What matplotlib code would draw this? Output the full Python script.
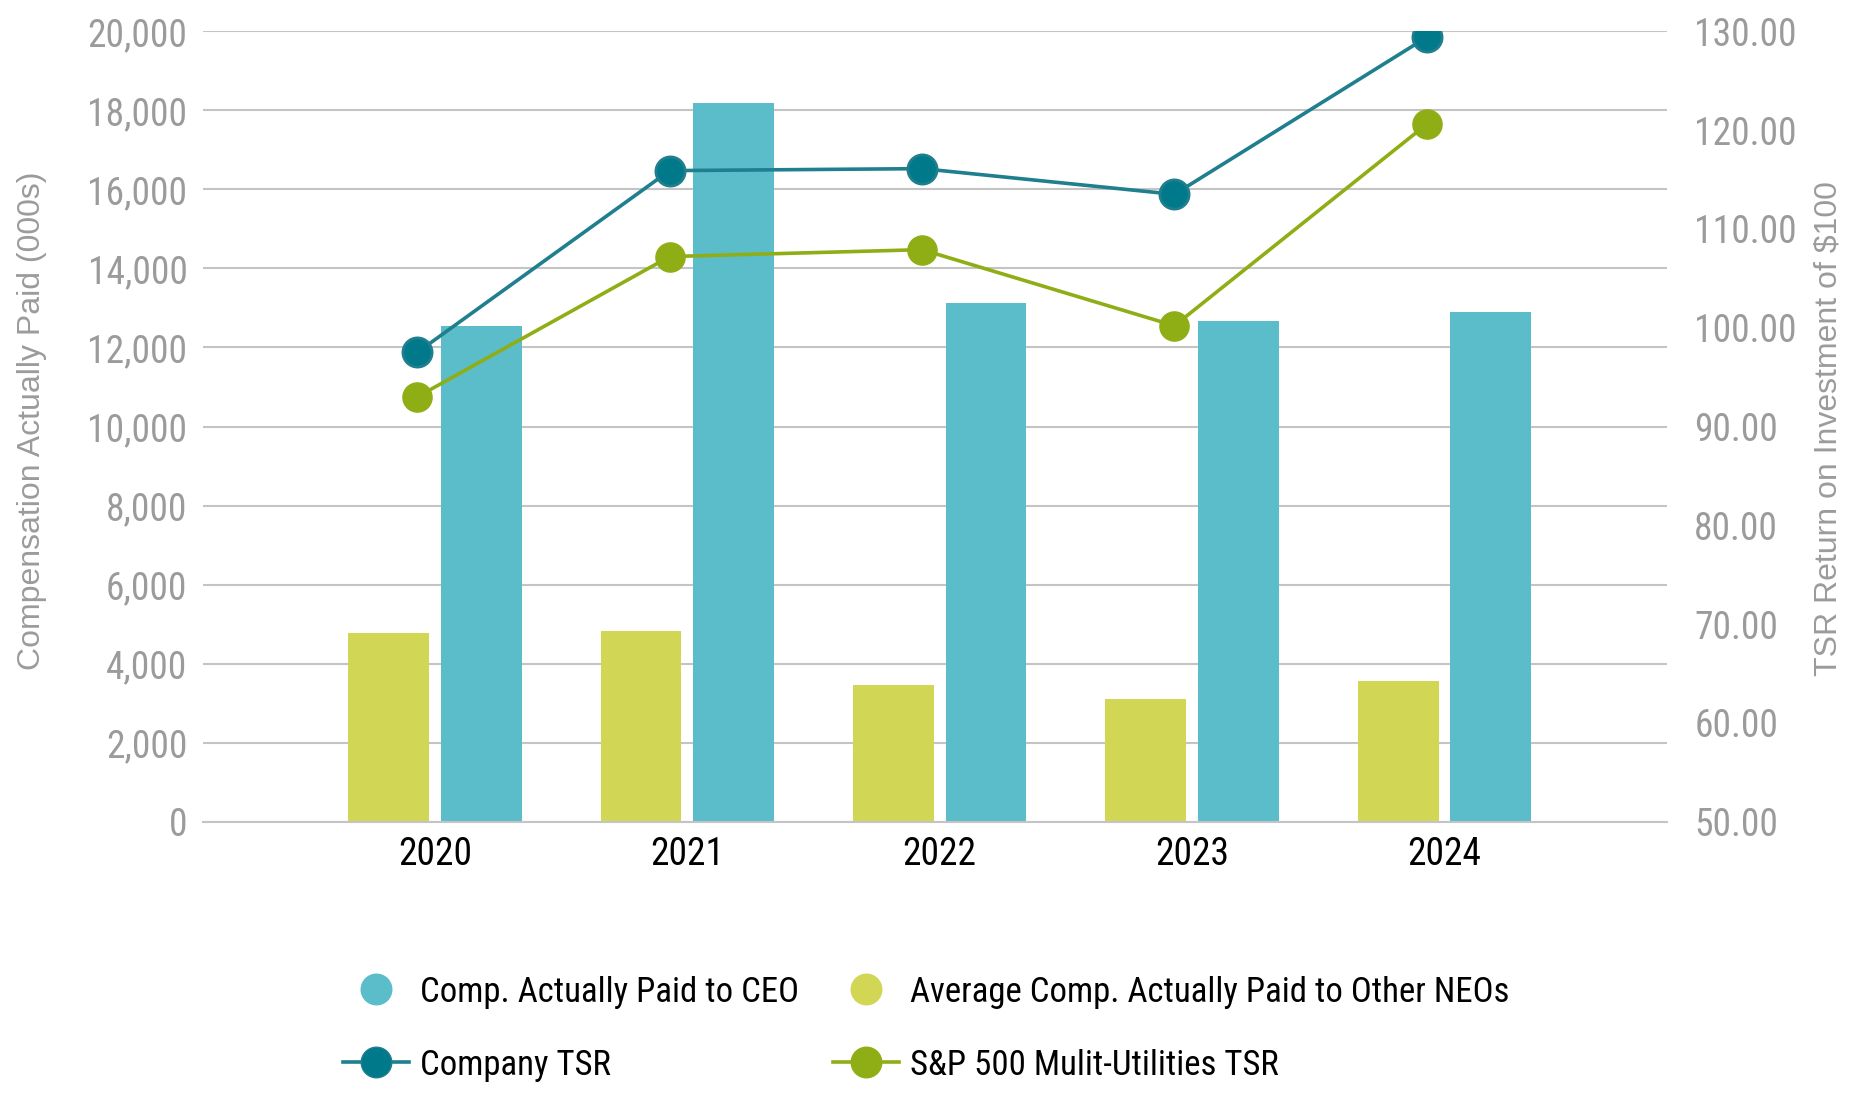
import matplotlib
matplotlib.use("Agg")
import matplotlib.pyplot as plt
from matplotlib import font_manager
from matplotlib.lines import Line2D
from matplotlib.ticker import FuncFormatter, MultipleLocator
import numpy as np

# data
years = ["2020", "2021", "2022", "2023", "2024"]
ceo_cap = [12550, 18190, 13120, 12670, 12910]
neo_cap = [4770, 4830, 3470, 3110, 3560]
company_tsr = [97.5, 115.9, 116.1, 113.5, 129.4]
peer_tsr = [93.0, 107.2, 107.9, 100.2, 120.6]

# colours
TEAL_BAR = "#5BBDC9"
OLIVE_BAR = "#D2D655"
TEAL_LINE = "#1F7F8F"
TEAL_DOT = "#00798A"
GREEN_LINE = "#8FAE16"
GREY_TXT = "#9B9B9B"
GRID = "#C4C4C4"

# pick a condensed font if one is installed
names = {f.name for f in font_manager.fontManager.ttflist}
narrow = next((n for n in ["Roboto Condensed", "Liberation Sans Narrow",
                           "Open Sans Condensed", "DejaVu Sans"] if n in names),
              "DejaVu Sans")
regular = "Liberation Sans" if "Liberation Sans" in names else "DejaVu Sans"

fig = plt.figure(figsize=(18.6, 11.18), dpi=100)
ax = fig.add_axes([0.109, 0.265, 0.787, 0.707])
ax2 = ax.twinx()

x = np.arange(len(years))
w = 0.32
off = 0.1835

ax.bar(x - off, neo_cap, w, color=OLIVE_BAR, zorder=2)
ax.bar(x + off, ceo_cap, w, color=TEAL_BAR, zorder=2)

ax.set_ylim(0, 20000)
ax.set_xlim(-0.92, 4.88)
ax.yaxis.set_major_locator(MultipleLocator(2000))
ax.yaxis.set_major_formatter(FuncFormatter(lambda v, p: f"{v:,.0f}"))
ax.grid(axis="y", color=GRID, linewidth=1.5, zorder=0)
ax.set_axisbelow(True)

for a in (ax, ax2):
    for s in a.spines.values():
        s.set_visible(False)
ax.spines["bottom"].set_visible(True)
ax.spines["bottom"].set_color(GRID)
ax.spines["bottom"].set_linewidth(1.5)

ax.set_xticks(x)
ax.set_xticklabels(years, fontfamily=narrow, fontsize=27, color="black")
ax.tick_params(axis="x", length=0, pad=10)
ax.tick_params(axis="y", length=0, pad=11, labelcolor=GREY_TXT, labelsize=27)
for t in ax.get_yticklabels():
    t.set_fontfamily(narrow)

# lines on the right axis
lx = x - 0.07
ax2.plot(lx, company_tsr, color=TEAL_LINE, linewidth=2.6, marker="o",
         markersize=21, markerfacecolor=TEAL_DOT, markeredgecolor=TEAL_LINE,
         markeredgewidth=2, zorder=4)
ax2.plot(lx, peer_tsr, color=GREEN_LINE, linewidth=2.6, marker="o",
         markersize=21, markerfacecolor=GREEN_LINE, markeredgecolor=GREEN_LINE,
         zorder=3)
ax2.set_ylim(50, 130)
ax2.yaxis.set_major_locator(MultipleLocator(10))
ax2.yaxis.set_major_formatter(FuncFormatter(lambda v, p: f"{v:.2f}"))
ax2.tick_params(axis="y", length=0, pad=20, labelcolor=GREY_TXT, labelsize=27)
for t in ax2.get_yticklabels():
    t.set_fontfamily(narrow)

fig.text(0.017, 0.624, "Compensation Actually Paid (000s)", rotation=90,
         ha="center", va="center", fontsize=23, color=GREY_TXT,
         fontfamily=regular)
fig.text(0.983, 0.617, "TSR Return on Investment of $100", rotation=90,
         ha="center", va="center", fontsize=23, color=GREY_TXT,
         fontfamily=regular)

handles = [
    Line2D([], [], linestyle="none", marker="o", markersize=22,
           markerfacecolor=TEAL_BAR, markeredgecolor=TEAL_BAR),
    Line2D([], [], color=TEAL_LINE, linewidth=2.6, marker="o", markersize=22,
           markerfacecolor=TEAL_DOT, markeredgecolor=TEAL_LINE),
    Line2D([], [], linestyle="none", marker="o", markersize=22,
           markerfacecolor=OLIVE_BAR, markeredgecolor=OLIVE_BAR),
    Line2D([], [], color=GREEN_LINE, linewidth=2.6, marker="o", markersize=22,
           markerfacecolor=GREEN_LINE, markeredgecolor=GREEN_LINE),
]
labels = ["Comp. Actually Paid to CEO", "Company TSR",
          "Average Comp. Actually Paid to Other NEOs", "S&P 500 Mulit-Utilities TSR"]
fig.legend(handles, labels, ncol=2, loc="center", bbox_to_anchor=(0.498, 0.08),
           frameon=False, prop={"family": narrow, "size": 25},
           handlelength=1.9, handletextpad=0.3, columnspacing=1.0,
           labelspacing=1.15)

fig.savefig("out.png", dpi=100)
